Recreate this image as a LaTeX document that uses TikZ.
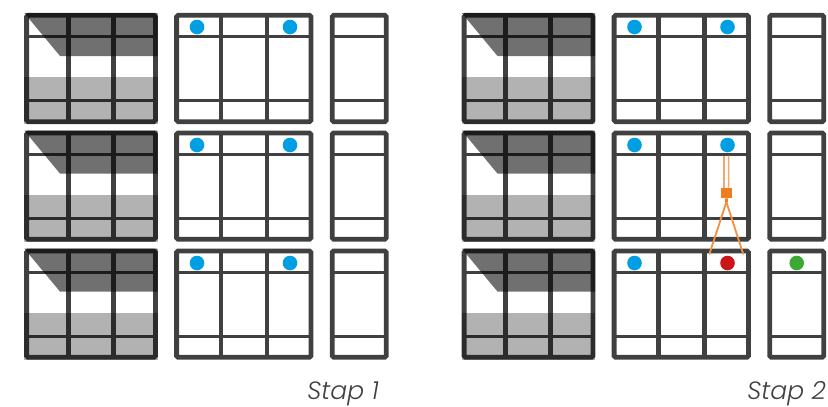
\documentclass[tikz,border=0pt]{standalone}
\usepackage{fontspec}
\setmainfont{Poppins Light}[ItalicFont={Poppins Light Italic}]
\usetikzlibrary{calc}
\definecolor{frameC}{HTML}{404040}
\definecolor{dotBlue}{HTML}{009FE3}
\definecolor{dotRed}{HTML}{CC1518}
\definecolor{dotGreen}{HTML}{3DA935}
\definecolor{orangeC}{HTML}{F07D1E}
\definecolor{orangeL}{HTML}{F5A66C}
\tikzset{
  frameline/.style={draw=frameC,line width=4.8pt,rounded corners=1.5pt},
  barV/.style={draw=frameC,line width=4.8pt},
  barH/.style={draw=frameC,line width=3.2pt},
  dot/.style={circle,inner sep=0pt,minimum size=14.6pt,fill=#1},
  caption/.style={font=\itshape\fontsize{25}{25}\selectfont,text=frameC,anchor=base east,inner sep=0pt},
  shadeDark/.style={fill=black,fill opacity=.56},
  shadeLight/.style={fill=black,fill opacity=.30},
  wire/.style={draw=orangeC!85!white,line width=1.8pt},
  wireDouble/.style={draw=orangeL,line width=1.7pt},
  sq/.style={rectangle,inner sep=0pt,minimum size=10.4pt,fill=orangeC}
}
\newcommand{\vupanels}[2]{%
  \begin{scope}[shift={(#1,#2)}]
    % left panel
    \draw[barH] (26.6,23.7) -- (155.4,23.7) (26.6,87.7) -- (155.4,87.7);
    \draw[barV] (68.3,2.3) -- (68.3,108.7) (113.3,2.3) -- (113.3,108.7);
    \draw[frameline] (26.6,2.3) rectangle (155.4,108.7);
    \fill[shadeDark] (24.3,0) -- (157.7,0) -- (157.7,43) -- (60,43) -- cycle;
    \fill[shadeLight] (24.3,64.3) rectangle (157.7,111);
    % middle panel
    \draw[barH] (176.6,23.7) -- (311,23.7) (176.6,87.7) -- (311,87.7);
    \draw[barV] (221,2.3) -- (221,108.7) (267,2.3) -- (267,108.7);
    \draw[frameline] (176.6,2.3) rectangle (311,108.7);
    % right panel
    \draw[barH] (332.2,23.7) -- (386.2,23.7) (332.2,87.7) -- (386.2,87.7);
    \draw[frameline] (332.2,2.3) rectangle (386.2,108.7);
  \end{scope}}
\begin{document}
\begin{tikzpicture}[x=1pt,y=-1pt]
\useasboundingbox (0,0) rectangle (828,407);
\foreach \gx in {0,437.5}{
  \foreach \ry in {13,130.6,248.6}{
    \vupanels{\gx}{\ry}
  }
}
% blue dots
\node[dot=dotBlue] (a1) at (197,27) {};
\node[dot=dotBlue] (a2) at (290,27) {};
\node[dot=dotBlue] (b1) at (197,145) {};
\node[dot=dotBlue] (b2) at (290,145) {};
\node[dot=dotBlue] (c1) at (197,263) {};
\node[dot=dotBlue] (c2) at (290,263) {};
\node[dot=dotBlue] (d1) at (634.5,27) {};
\node[dot=dotBlue] (d2) at (727.5,27) {};
\node[dot=dotBlue] (e1) at (634.5,145) {};
\node[dot=dotBlue] (e2) at (727.5,145) {};
\node[dot=dotBlue] (f1) at (634.5,263) {};
\node[dot=dotRed] (f2) at (727.5,263) {};
\node[dot=dotGreen] (f3) at (796.7,263) {};
% orange connector
\node[sq] (q) at (726.3,193) {};
\coordinate (wtop) at (726.4,155.7);
\coordinate (wl) at (709.3,254.3);
\coordinate (wr) at (743.3,254.3);
\coordinate (apex) at (726.4,202);
\draw[wireDouble] ($(wtop)+(-2.2,0)$) -- ($(q.north)+(-2.1,0)$);
\draw[wireDouble] ($(wtop)+(2.2,0)$) -- ($(q.north)+(2.3,0)$);
\draw[draw=orangeC,line width=3pt] (q.south) -- (apex);
\draw[wire] (apex) -- (wl);
\draw[wire] (apex) -- (wr);
% captions
\node[caption] (s1) at (379,399.5) {Stap 1};
\node[caption] (s2) at (826,399.5) {Stap 2};
\end{tikzpicture}
\end{document}
